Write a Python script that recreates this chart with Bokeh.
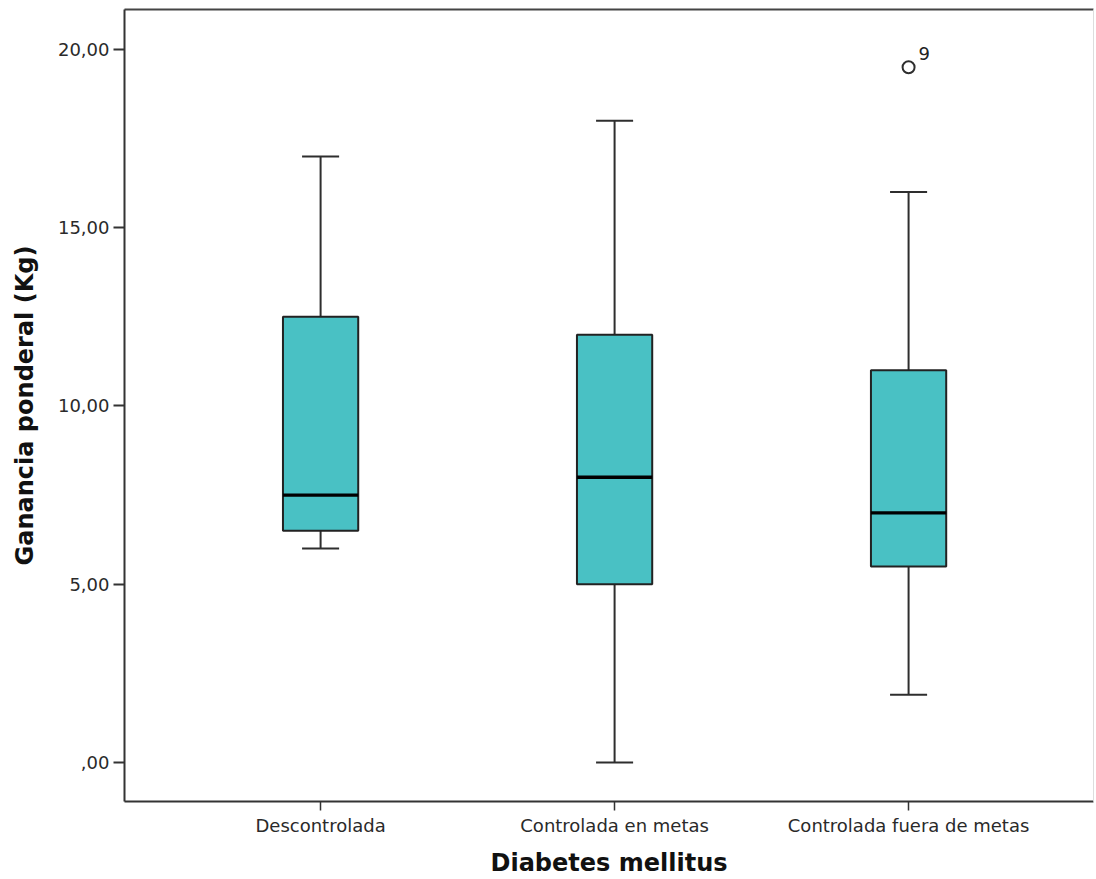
from bokeh.plotting import figure
from bokeh.models import ColumnDataSource, Range1d, FixedTicker, LinearAxis
from bokeh.embed import file_html
from bokeh.resources import INLINE
from bokeh.core.properties import value

# Group labels and box-plot statistics (kg)
categories = ["Descontrolada", "Controlada en metas", "Controlada fuera de metas"]
positions = [1, 2, 3]
q1 = [6.5, 5.0, 5.5]
median = [7.5, 8.0, 7.0]
q3 = [12.5, 12.0, 11.0]
lower = [6.0, 0.0, 1.9]
upper = [17.0, 18.0, 16.0]

# Outlier cases
outlier_pos = [3]
outlier_val = [19.5]
outlier_id = ["9"]

y_ticks = [0, 5, 10, 15, 20]
y_tick_labels = [",00", "5,00", "10,00", "15,00", "20,00"]

BOX_HALF = 0.128
CAP_HALF = 0.063
FILL = "#49C1C4"
FONT = "DejaVu Sans"

src = ColumnDataSource(dict(
    x=positions, q1=q1, med=median, q3=q3, lo=lower, hi=upper,
    left=[p - BOX_HALF for p in positions], right=[p + BOX_HALF for p in positions],
    cl=[p - CAP_HALF for p in positions], cr=[p + CAP_HALF for p in positions],
))
out_src = ColumnDataSource(dict(x=outlier_pos, y=outlier_val, label=outlier_id))

p = figure(width=1096, height=879, output_backend="svg", toolbar_location=None,
           x_range=Range1d(0.333, 3.629), y_range=Range1d(-1.094, 21.12),
           min_border_left=124, min_border_right=3, min_border_top=9, min_border_bottom=78)
p.background_fill_color = "white"
p.border_fill_color = "white"
p.outline_line_color = None
p.grid.visible = False

# whiskers
for y0, y1 in (("q3", "hi"), ("q1", "lo")):
    p.segment(x0="x", y0=y0, x1="x", y1=y1, source=src, line_color="#2e2e2e", line_width=2)
for yc in ("hi", "lo"):
    p.segment(x0="cl", y0=yc, x1="cr", y1=yc, source=src, line_color="#2e2e2e", line_width=2)

# boxes
p.quad(left="left", right="right", bottom="q1", top="q3", source=src,
       fill_color=FILL, line_color="#222222", line_width=2)
p.segment(x0="left", y0="med", x1="right", y1="med", source=src,
          line_color="black", line_width=3.4)

# outliers
p.scatter(x="x", y="y", source=out_src, marker="circle", size=12,
          fill_color="white", line_color="#2e2e2e", line_width=2)
p.text(x="x", y="y", text="label", source=out_src, x_offset=10, y_offset=-7,
       text_font=value(FONT), text_font_size="18px", text_color="#222222",
       text_baseline="bottom", text_align="left")

# axes
xa = p.xaxis[0]
xa.ticker = FixedTicker(ticks=positions)
xa.major_label_overrides = {pos: lab for pos, lab in zip(positions, categories)}
xa.minor_tick_line_color = None
xa.major_tick_in = 0
xa.major_tick_out = 9
xa.major_tick_line_color = "#333333"
xa.major_tick_line_width = 1.5
xa.axis_line_color = "#333333"
xa.axis_line_width = 2
xa.major_label_text_font = FONT
xa.major_label_text_font_size = "18px"
xa.major_label_text_color = "#2a2a2a"
xa.major_label_standoff = 4
xa.axis_label = "Diabetes mellitus"
xa.axis_label_text_font = FONT
xa.axis_label_text_font_size = "24px"
xa.axis_label_text_font_style = "bold"
xa.axis_label_text_color = "#111111"
xa.axis_label_standoff = 10

ya = p.yaxis[0]
ya.ticker = FixedTicker(ticks=y_ticks)
ya.major_label_overrides = {t: lab for t, lab in zip(y_ticks, y_tick_labels)}
ya.minor_tick_line_color = None
ya.major_tick_in = 0
ya.major_tick_out = 11
ya.major_tick_line_color = "#333333"
ya.major_tick_line_width = 2
ya.axis_line_color = "#333333"
ya.axis_line_width = 2
ya.major_label_text_font = FONT
ya.major_label_text_font_size = "18px"
ya.major_label_text_color = "#2a2a2a"
ya.major_label_standoff = 4
ya.axis_label = "Ganancia ponderal (Kg)"
ya.axis_label_text_font = FONT
ya.axis_label_text_font_size = "24px"
ya.axis_label_text_font_style = "bold"
ya.axis_label_text_color = "#111111"
ya.axis_label_standoff = 16

# frame edges at top and right
top = LinearAxis(ticker=FixedTicker(ticks=[]), axis_line_color="#444444", axis_line_width=2,
                 major_label_text_font_size="0px", major_tick_line_color=None,
                 minor_tick_line_color=None)
p.add_layout(top, "above")
right = LinearAxis(ticker=FixedTicker(ticks=[]), axis_line_color="#dddddd", axis_line_width=1,
                   major_label_text_font_size="0px", major_tick_line_color=None,
                   minor_tick_line_color=None)
p.add_layout(right, "right")

open("out.html", "w").write(file_html(p, INLINE))
